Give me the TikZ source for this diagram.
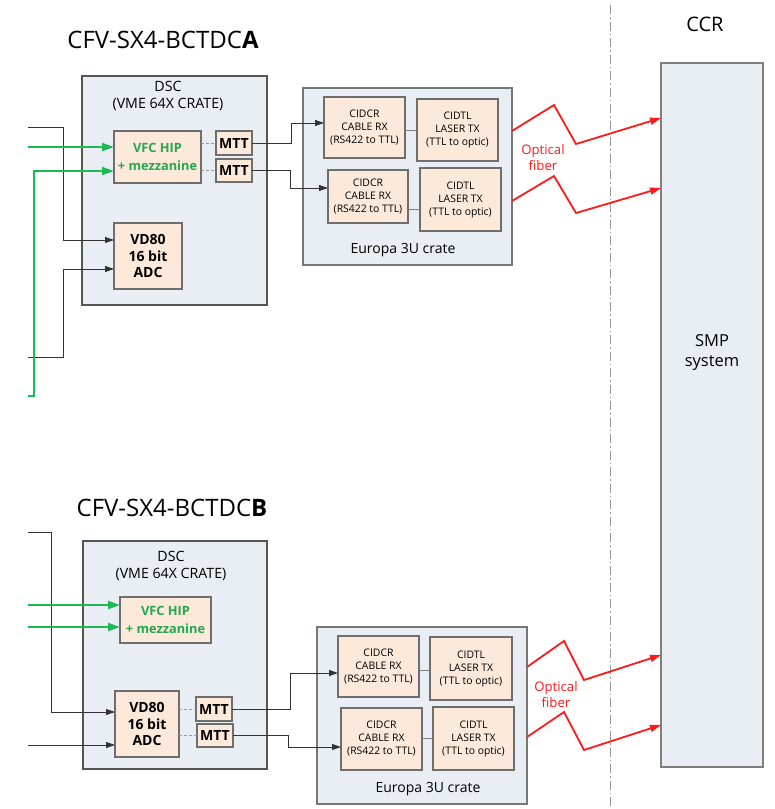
\documentclass[tikz,border=0pt]{standalone}
\usepackage{fontspec}
\setmainfont{Open Sans}
\usetikzlibrary{arrows.meta}
\definecolor{crateFill}{HTML}{E9EDF4}
\definecolor{cardFill}{HTML}{FCE9DA}
\definecolor{frameGray}{HTML}{555555}
\definecolor{lineGray}{HTML}{7F7F7F}
\definecolor{optGreen}{HTML}{1DB954}
\definecolor{txtGreen}{HTML}{22A84F}
\definecolor{fibRed}{HTML}{FF1A1A}
\tikzset{
  crate/.style={draw=frameGray, fill=crateFill, line width=1.4pt, inner sep=0pt, outer sep=0pt},
  card/.style={draw=frameGray!85, fill=cardFill, line width=1.1pt, inner sep=0pt, outer sep=0pt, align=center},
  bigbox/.style={draw=lineGray, fill=crateFill, line width=1.1pt, inner sep=0pt, outer sep=0pt},
  lbl/.style={inner sep=0pt, align=center},
  blkarr/.style={draw=black!80, line width=0.8pt, -{Triangle[length=9pt,width=6pt]}},
  grnarr/.style={draw=optGreen, line width=2pt, -{Triangle[length=12pt,width=8pt]}},
  redarr/.style={draw=fibRed, line width=1.8pt, line join=miter, -{Triangle[length=11pt,width=7pt]}},
  dsh/.style={draw=lineGray!80, line width=0.8pt, dash pattern=on 3pt off 2pt},
  gln/.style={draw=lineGray, line width=1pt},
  small/.style={font=\fontsize{10.4}{13}\selectfont},
  mtt/.style={card, font=\fontsize{14}{15}\selectfont\bfseries},
  vfc/.style={card, text=txtGreen, font=\fontsize{12.8}{18}\selectfont\bfseries},
  vd/.style={card, font=\fontsize{14}{16.5}\selectfont\bfseries},
  title/.style={lbl, font=\fontsize{24}{26}\selectfont},
  dsctxt/.style={lbl, font=\fontsize{14.2}{17}\selectfont},
  eutxt/.style={lbl, font=\fontsize{14}{16}\selectfont},
  fibtxt/.style={lbl, text=fibRed, font=\fontsize{13.2}{16}\selectfont},
}
\begin{document}
\begin{tikzpicture}[x=1pt,y=-1pt]
\useasboundingbox (0,0) rectangle (775,809);

% separator
\draw[lineGray!80, line width=0.8pt, dash pattern=on 9pt off 3pt on 1.5pt off 3pt] (610,5) -- (610,809);

% CCR
\node[lbl, font=\fontsize{20}{22}\selectfont] (ccr) at (705,24) {CCR};
\node[bigbox, minimum width=102pt, minimum height=704pt] (smp) at (712,415) {};
\node[lbl, font=\fontsize{16.5}{20}\selectfont] (smpt) at (712,353) {SMP\\system};

% ===================== A =====================
\node[title] (titA) at (163,40) {CFV-SX4-BCTDC\textbf{A}};
\node[crate, minimum width=185pt, minimum height=229pt] (dscA) at (174.5,190.5) {};
\node[dsctxt] (dscAt) at (168,96) {DSC\\(VME 64X CRATE)};
\node[vfc, minimum width=87pt, minimum height=52pt] (vfA) at (157.5,157) {VFC HIP\\+ mezzanine};
\node[mtt, minimum width=36pt, minimum height=24pt] (mttA1) at (234,143) {MTT};
\node[mtt, minimum width=36pt, minimum height=23pt] (mttA2) at (234,170.5) {MTT};
\node[vd, minimum width=68pt, minimum height=66pt] (vdA) at (148,256) {VD80\\16 bit\\ADC};

\node[crate, draw=frameGray!80, line width=1.1pt, minimum width=209pt, minimum height=177pt] (euA) at (407.5,176.5) {};
\node[card, small, minimum width=81pt, minimum height=61pt] (crA1) at (364.5,127.5) {CIDCR\\CABLE RX\\(RS422 to TTL)};
\node[card, small, minimum width=81pt, minimum height=62pt] (tlA1) at (457.5,130) {CIDTL\\LASER TX\\(TTL to optic)};
\node[card, small, minimum width=80pt, minimum height=53pt] (crA2) at (368,196.5) {CIDCR\\CABLE RX\\(RS422 to TTL)};
\node[card, small, minimum width=81pt, minimum height=63pt] (tlA2) at (460.5,199.5) {CIDTL\\LASER TX\\(TTL to optic)};
\node[eutxt] (euAt) at (403,250) {Europa 3U crate};

% inputs A
\coordinate (inA1) at (28,127);
\coordinate (inA2) at (28,147);
\coordinate (inA3) at (28,396);
\coordinate (inA4) at (28,357);
\draw[blkarr] (inA1) -- (63,127) |- ([yshift=16pt]vdA.west);
\draw[blkarr] (inA4) -- (63,357) |- ([yshift=-13pt]vdA.west);
\draw[grnarr] (inA2) -- ([yshift=10pt]vfA.west);
\draw[grnarr] (inA3) -- (34,396) |- ([yshift=-14pt]vfA.west);

\draw[dsh] (vfA.east |- mttA1.west) -- (mttA1.west);
\draw[dsh] (vfA.east |- mttA2.west) -- (mttA2.west);
\draw[blkarr] (mttA1.east) -- (291,143) |- ([yshift=4.5pt]crA1.west);
\draw[blkarr] (mttA2.east) -- (290,170.5) |- ([yshift=8.5pt]crA2.west);
\draw[gln] (crA1.east |- tlA1.west) -- (tlA1.west);
\draw[gln] ([yshift=-12.5pt]crA2.east) -- ([yshift=-9.5pt]tlA2.west);

% fibers A
\draw[redarr] (euA.east |- 0,131) -- (554,105) -- (576,144) -- (smp.west |- 0,118);
\draw[redarr] (euA.east |- 0,201) -- (554,176) -- (576,213) -- (smp.west |- 0,188);
\node[fibtxt] (fibA) at (543,158) {Optical\\fiber};

% ===================== B =====================
\node[title] (titB) at (172,508) {CFV-SX4-BCTDC\textbf{B}};
\node[crate, minimum width=184pt, minimum height=228pt] (dscB) at (175,655) {};
\node[dsctxt] (dscBt) at (171,566) {DSC\\(VME 64X CRATE)};
\node[vfc, minimum width=91pt, minimum height=46pt] (vfB) at (165.5,620) {VFC HIP\\+ mezzanine};
\node[vd, minimum width=64pt, minimum height=66pt] (vdB) at (147,724) {VD80\\16 bit\\ADC};
\node[mtt, minimum width=36pt, minimum height=24pt] (mttB1) at (214,709) {MTT};
\node[mtt, minimum width=36pt, minimum height=23pt] (mttB2) at (215,735.5) {MTT};

\node[crate, draw=frameGray!80, line width=1.1pt, minimum width=210pt, minimum height=177pt] (euB) at (422,715.5) {};
\node[card, small, minimum width=81pt, minimum height=61pt] (crB1) at (378.5,666.5) {CIDCR\\CABLE RX\\(RS422 to TTL)};
\node[card, small, minimum width=82pt, minimum height=63pt] (tlB1) at (471,668.5) {CIDTL\\LASER TX\\(TTL to optic)};
\node[card, small, minimum width=81pt, minimum height=62pt] (crB2) at (381.5,739) {CIDCR\\CABLE RX\\(RS422 to TTL)};
\node[card, small, minimum width=81pt, minimum height=63pt] (tlB2) at (473.5,738.5) {CIDTL\\LASER TX\\(TTL to optic)};
\node[eutxt] (euBt) at (428,789) {Europa 3U crate};

% inputs B
\coordinate (inB1) at (28,532);
\coordinate (inB2) at (28,605);
\coordinate (inB3) at (28,627);
\coordinate (inB4) at (28,745);
\draw[blkarr] (inB1) -- (51,532) |- ([yshift=12pt]vdB.west);
\draw[blkarr] (inB4) -- ([yshift=-21pt]vdB.west);
\draw[grnarr] (inB2) -- ([yshift=15pt]vfB.west);
\draw[grnarr] (inB3) -- ([yshift=-7pt]vfB.west);

\draw[dsh] (vdB.east |- mttB1.west) -- (mttB1.west);
\draw[dsh] (vdB.east |- mttB2.west) -- (mttB2.west);
\draw[blkarr] (mttB1.east) -- (290,709) |- ([yshift=-6.5pt]crB1.west);
\draw[blkarr] (mttB2.east) -- (288,735.5) |- ([yshift=-8pt]crB2.west);
\draw[gln] ([yshift=-3.5pt]crB1.east) -- ([yshift=-1.5pt]tlB1.west);
\draw[gln] (crB2.east |- tlB2.west) -- (tlB2.west);

% fibers B
\draw[redarr] (euB.east |- 0,667) -- (564,641) -- (584,680) -- (smp.west |- 0,655);
\draw[redarr] (euB.east |- 0,737) -- (564,712) -- (584,750) -- (smp.west |- 0,725);
\node[fibtxt] (fibB) at (556,695) {Optical\\fiber};
\end{tikzpicture}
\end{document}
